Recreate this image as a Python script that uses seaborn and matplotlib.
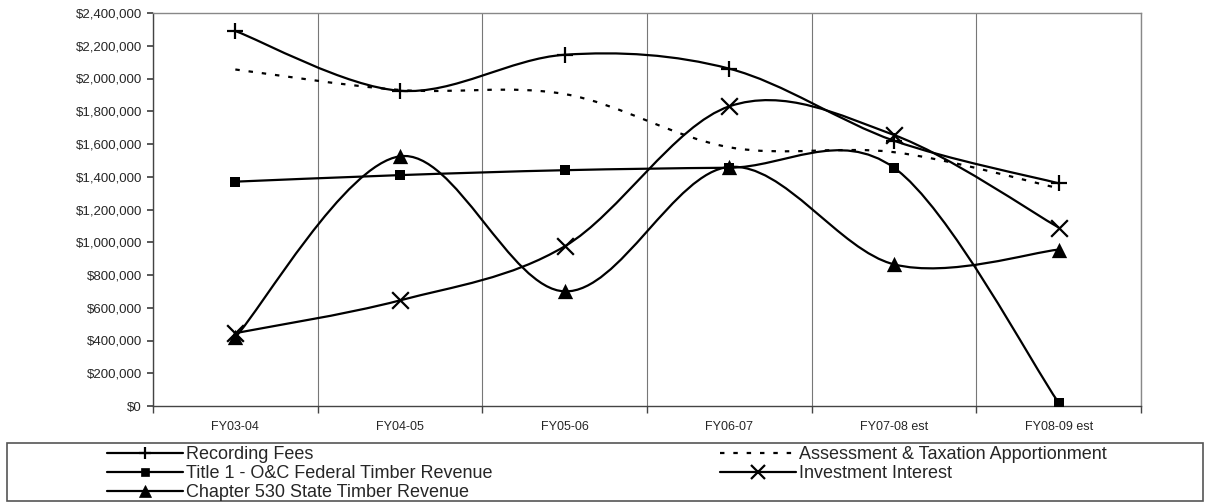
import matplotlib
matplotlib.use('Agg')

import numpy as np
import pandas as pd
import matplotlib.pyplot as plt
import seaborn as sns
from matplotlib.path import Path
from matplotlib.patches import PathPatch, Rectangle
from matplotlib.lines import Line2D
from matplotlib.ticker import FuncFormatter, MultipleLocator

sns.set_theme(style='white')
plt.rcParams['font.family'] = ['Liberation Sans', 'DejaVu Sans']

# ========== 数据 ==========
years = ['FY03-04', 'FY04-05', 'FY05-06', 'FY06-07', 'FY07-08 est', 'FY08-09 est']
recording_fees = [2290000, 1925000, 2145000, 2060000, 1620000, 1360000]
assessment = [2055000, 1930000, 1905000, 1580000, 1550000, 1330000]
title1_oc = [1370000, 1410000, 1440000, 1455000, 1455000, 20000]
chapter530 = [420000, 1525000, 700000, 1460000, 865000, 955000]
investment = [445000, 645000, 975000, 1830000, 1655000, 1090000]

series_names = ['Recording Fees', 'Assessment & Taxation Apportionment',
                'Title 1 - O&C Federal Timber Revenue', 'Investment Interest',
                'Chapter 530 State Timber Revenue']
series_vals = [recording_fees, assessment, title1_oc, investment, chapter530]
markers = {'Recording Fees': '+', 'Assessment & Taxation Apportionment': None,
           'Title 1 - O&C Federal Timber Revenue': 's', 'Investment Interest': 'x',
           'Chapter 530 State Timber Revenue': '^'}
msizes = {'+': 11, 's': 7, 'x': 12, '^': 11}
lstyles = {'Assessment & Taxation Apportionment': (0, (2, 4))}

df = pd.DataFrame({'year': np.tile(years, len(series_names)),
                   'pos': np.tile(np.arange(len(years)), len(series_names)),
                   'series': np.repeat(series_names, len(years)),
                   'value': np.concatenate(series_vals)})


def smooth_path(xs, ys):
    # Excel 风格平滑曲线（三次贝塞尔）
    pts = np.column_stack([xs, ys]).astype(float)
    n = len(pts)
    verts = [pts[0]]
    codes = [Path.MOVETO]
    for i in range(n - 1):
        p0 = pts[max(i - 1, 0)]
        p1 = pts[i]
        p2 = pts[i + 1]
        p3 = pts[min(i + 2, n - 1)]
        c1 = p1 + (p2 - p0) / 6
        c2 = p2 - (p3 - p1) / 6
        verts += [c1, c2, p2]
        codes += [Path.CURVE4] * 3
    return Path(verts, codes)


fig = plt.figure(figsize=(12.06, 5.04), dpi=100)
ax = fig.add_axes([153 / 1206, 1 - 406 / 504, (1141 - 153) / 1206, (406 - 13) / 504])

for name in series_names:
    sub = df[df['series'] == name]
    ls = lstyles.get(name, '-')
    patch = PathPatch(smooth_path(sub['pos'].values, sub['value'].values),
                      facecolor='none', edgecolor='black', lw=1.6, linestyle=ls, zorder=3)
    ax.add_patch(patch)
    m = markers[name]
    if m is not None:
        sns.scatterplot(data=sub, x='pos', y='value', marker=m, color='black',
                        s=msizes[m] ** 2, linewidth=1.6 if m in ['+', 'x'] else 0,
                        edgecolor='black', ax=ax, zorder=4, legend=False)

ax.set_xlim(-0.5, 5.5)
ax.set_ylim(0, 2400000)
ax.yaxis.set_major_locator(MultipleLocator(200000))
ax.yaxis.set_major_formatter(FuncFormatter(lambda v, p: f"${v:,.0f}"))
ax.set_xticks(range(len(years)))
ax.set_xticklabels(years)
ax.set_xticks(np.arange(-0.5, 6, 1), minor=True)
ax.tick_params(axis='x', which='major', length=0, pad=11, labelsize=9)
ax.tick_params(axis='x', which='minor', length=5, direction='out', bottom=True, color='#444444')
ax.tick_params(axis='y', length=4, direction='out', left=True, labelsize=9.5, pad=4, color='#444444')
ax.grid(axis='x', which='minor', color='#777777', lw=0.8)
ax.set_xlabel('')
ax.set_ylabel('')
for sp in ax.spines.values():
    sp.set_color('#888888')
    sp.set_linewidth(1.0)
ax.spines['bottom'].set_color('#444444')
ax.spines['left'].set_color('#444444')

# ========== 图例 ==========
fig.patches.append(Rectangle((7 / 1206, 3 / 504), 1196 / 1206, 58 / 504,
                             transform=fig.transFigure, fill=False,
                             edgecolor='#555555', lw=1.2))


def handle(name):
    m = markers[name]
    return Line2D([], [], color='black', lw=1.6, linestyle=lstyles.get(name, '-'),
                  marker=m, markersize=(msizes[m] * 0.8) if m else 0,
                  markeredgewidth=1.6 if m in ['+', 'x'] else 0.5)


col1 = ['Recording Fees', 'Title 1 - O&C Federal Timber Revenue', 'Chapter 530 State Timber Revenue']
col2 = ['Assessment & Taxation Apportionment', 'Investment Interest']
leg_kw = dict(frameon=False, fontsize=13, handlelength=4.2, handletextpad=0.15,
              labelspacing=0.12, borderpad=0, borderaxespad=0)
fig.legend([handle(n) for n in col1], col1, loc='upper left',
           bbox_to_anchor=(107 / 1206, 1 - 446 / 504), **leg_kw)
fig.legend([handle(n) for n in col2], col2, loc='upper left',
           bbox_to_anchor=(720 / 1206, 1 - 446 / 504), **leg_kw)

fig.savefig('out.png', dpi=100)
plt.close()
